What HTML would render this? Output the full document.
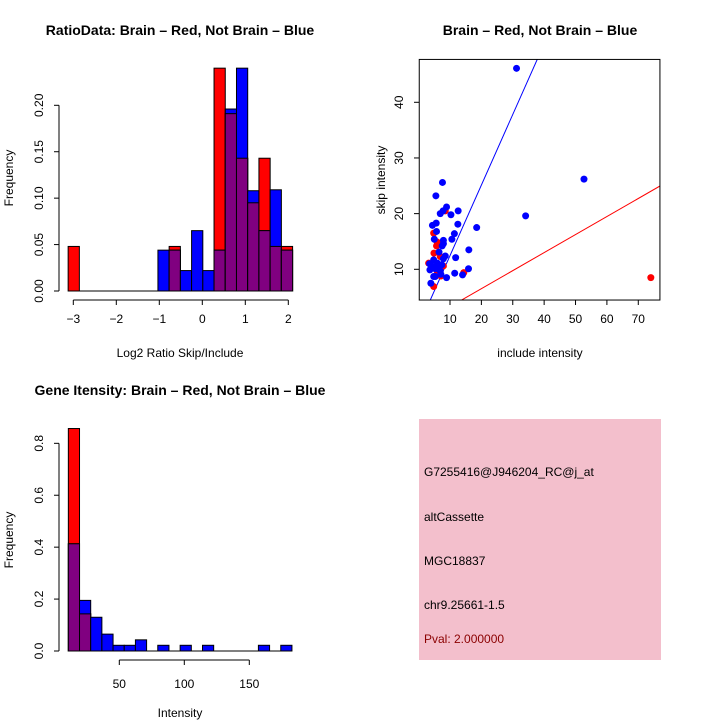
<!DOCTYPE html>
<html><head><meta charset="utf-8"><style>
body{margin:0;background:#fff}
svg{display:block;font-family:"Liberation Sans",sans-serif}
</style></head><body>
<svg id="c" width="720" height="720" xmlns="http://www.w3.org/2000/svg">
<rect x="0" y="0" width="720" height="720" fill="#fff"/>
<g id="p1"></g>
<g id="p2"></g>
<g id="p3"></g>
<g>
<rect x="419" y="419" width="242" height="241" fill="#f3bfcc"/>
<text x="424" y="476" font-size="12">G7255416@J946204_RC@j_at</text>
<text x="424" y="521" font-size="12">altCassette</text>
<text x="424" y="565" font-size="12">MGC18837</text>
<text x="424" y="609" font-size="12">chr9.25661-1.5</text>
<text x="424" y="643" font-size="12" fill="#8b0000">Pval: 2.000000</text>
</g>
</svg>
<script>
// Ratio histogram data
const ratioStart = -3.12, ratioWidth = 0.261;
const ratioRed  = [0.048,0,0,0,0,0,0,0,0,0.048,0,0,0,0.24,0.191,0.143,0.095,0.143,0.048,0.048];
const ratioBlue = [0,0,0,0,0,0,0,0,0.044,0.044,0.022,0.065,0.022,0.044,0.196,0.24,0.108,0.065,0.109,0.044];
const ratioXTicks = [-3,-2,-1,0,1,2];
const ratioYTicks = [0,0.05,0.10,0.15,0.20];
const ratioYLabels = ["0.00","0.05","0.10","0.15","0.20"];
// Scatter data
const redX = [4.8,5.7,5.9,4.9,7.9,7.1,4.8,8.5,14.4,3.2,6.9,5.9,74.0];
const redY = [16.5,14.2,14.9,12.9,10.6,8.8,6.9,20.5,9.4,11.1,12.3,9.7,8.5];
const blueX = [31.2,52.7,34.1,18.5,16,15.9,14,11.5,11.8,12.5,12.6,10.3,11.4,10.6,7.6,5.5,8.9,7.8,6.9,4.4,5.6,5.7,5,7.9,7.9,7.5,6.5,8.5,7.9,3.5,4.8,6,7.4,5.3,6.9,3.6,4.8,3.9,8.9,7.1,5.3,6.2,4.2];
const blueY = [46.1,26.2,19.6,17.5,13.5,10.1,9.0,9.3,12.1,18.1,20.5,19.8,16.4,15.4,25.6,23.2,21.2,20.5,20,17.9,18.3,16.8,15.4,15.2,14.6,14.2,13.1,12.4,11.9,11,11.7,11.1,10.8,10.1,9.7,9.9,8.7,7.5,8.5,9.1,8.7,10.4,10.6];
const blueFit = [-0.23,1.268];
const redFit = [0.04,0.324];
const scXTicks = [10,20,30,40,50,60,70];
const scYTicks = [10,20,30,40];
// Gene intensity histogram
const genStart = 10.8, genWidth = 8.6;
const genRed  = [0.857,0.143,0,0,0,0,0,0,0,0,0,0,0,0,0,0,0,0,0,0];
const genBlue = [0.413,0.195,0.13,0.065,0.022,0.022,0.043,0,0.022,0,0.022,0,0.022,0,0,0,0,0.022,0,0.022];
const genXTicks = [50,100,150];
const genYTicks = [0,0.2,0.4,0.6,0.8];
const genYLabels = ["0.0","0.2","0.4","0.6","0.8"];

const NS="http://www.w3.org/2000/svg";
function mk(parent,tag,attrs,txt){const e=document.createElementNS(NS,tag);for(const k in attrs)e.setAttribute(k,attrs[k]);if(txt!==undefined)e.textContent=txt;parent.appendChild(e);return e;}

function hist(g,o){
  const {sx,sy,start,width,red,blue}=o;
  for(let i=0;i<red.length;i++){
    const x0=sx(start+i*width), x1=sx(start+(i+1)*width);
    const r=red[i], b=blue[i], m=Math.min(r,b);
    if(r>0){const e=mk(g,'rect',{x:x0,y:sy(r),width:x1-x0,height:sy(0)-sy(r),fill:'#ff0000',stroke:'#000','stroke-width':1});
      }
    if(b>0){const e=mk(g,'rect',{x:x0,y:sy(b),width:x1-x0,height:sy(0)-sy(b),fill:'#0000ff',stroke:'#000','stroke-width':1});
      }
    if(m>0){const e=mk(g,'rect',{x:x0,y:sy(m),width:x1-x0,height:sy(0)-sy(m),fill:'#800080',stroke:'#000','stroke-width':1});
      }
  }
  mk(g,'line',{x1:sx(start),x2:sx(start+red.length*width),y1:sy(0),y2:sy(0),stroke:'#000'});
}
function yaxis(g,x,sy,ticks,labels,lx){
  mk(g,'line',{x1:x,x2:x,y1:sy(ticks[0]),y2:sy(ticks[ticks.length-1]),stroke:'#000'});
  ticks.forEach((t,i)=>{mk(g,'line',{x1:x-5,x2:x,y1:sy(t),y2:sy(t),stroke:'#000'});
    const e=mk(g,'text',{x:lx,y:sy(t),'font-size':12,'text-anchor':'middle',transform:`rotate(-90 ${lx} ${sy(t)})`},labels[i]);
    });
}
function xaxis(g,y,sx,ticks,labels,ly){
  mk(g,'line',{x1:sx(ticks[0]),x2:sx(ticks[ticks.length-1]),y1:y,y2:y,stroke:'#000'});
  ticks.forEach((t,i)=>{mk(g,'line',{x1:sx(t),x2:sx(t),y1:y,y2:y+5,stroke:'#000'});
    const e=mk(g,'text',{x:sx(t),y:ly,'font-size':12,'text-anchor':'middle'},labels[i]);
    });
}
function label(g,x,y,t,name,opts){const a=Object.assign({x:x,y:y,'font-size':12,'text-anchor':'middle'},opts||{});const e=mk(g,'text',a,t);
  return e;}

// Panel 1
(function(){
  const g=document.getElementById('p1');
  const sx=v=>73.3+(v+3)*43, sy=v=>291-v*928.5;
  hist(g,{sx,sy,start:ratioStart,width:ratioWidth,red:ratioRed,blue:ratioBlue});
  yaxis(g,59,sy,ratioYTicks,ratioYLabels,43);
  xaxis(g,300,sx,ratioXTicks,ratioXTicks.map(t=>t<0?'\u2212'+(-t):String(t)),323);
  label(g,180,35,'RatioData: Brain \u2013 Red, Not Brain \u2013 Blue','chart-title',{'font-size':14,'font-weight':'bold'});
  label(g,180,357,'Log2 Ratio Skip/Include','x-axis-title');
  label(g,13,178,'Frequency','y-axis-title',{transform:'rotate(-90 13 178)'});
})();
// Panel 2
(function(){
  const g=document.getElementById('p2');
  const sx=v=>450+(v-10)*3.138, sy=v=>269.3-(v-10)*5.567;
  const xmin=0.2,xmax=76.9,ymin=4.48,ymax=47.7;
  const cp=mk(g,'clipPath',{id:'clip2'});mk(cp,'rect',{x:sx(xmin),y:sy(ymax),width:sx(xmax)-sx(xmin),height:sy(ymin)-sy(ymax)});
  const lines=mk(g,'g',{'clip-path':'url(#clip2)'});
  const bl=mk(lines,'line',{x1:sx(0),y1:sy(blueFit[0]),x2:sx(80),y2:sy(blueFit[0]+blueFit[1]*80),stroke:'#0000ff'});
  
  const rl=mk(lines,'line',{x1:sx(0),y1:sy(redFit[0]),x2:sx(80),y2:sy(redFit[0]+redFit[1]*80),stroke:'#ff0000'});
  
  redX.forEach((x,i)=>{const c=mk(g,'circle',{cx:sx(x),cy:sy(redY[i]),r:3.5,fill:'#ff0000'});
    });
  blueX.forEach((x,i)=>{const c=mk(g,'circle',{cx:sx(x),cy:sy(blueY[i]),r:3.5,fill:'#0000ff'});
    });
  const b=mk(g,'rect',{x:sx(xmin),y:sy(ymax),width:sx(xmax)-sx(xmin),height:sy(ymin)-sy(ymax),fill:'none',stroke:'#000'});
  
  scXTicks.forEach(t=>{mk(g,'line',{x1:sx(t),x2:sx(t),y1:300,y2:305,stroke:'#000'});label(g,sx(t),323,String(t),'x-tick-label');});
  scYTicks.forEach(t=>{mk(g,'line',{x1:414,x2:419.3,y1:sy(t),y2:sy(t),stroke:'#000'});label(g,403,sy(t),String(t),'y-tick-label',{transform:`rotate(-90 403 ${sy(t)})`});});
  label(g,540,35,'Brain \u2013 Red, Not Brain \u2013 Blue','chart-title',{'font-size':14,'font-weight':'bold'});
  label(g,540,357,'include intensity','x-axis-title');
  label(g,385,180,'skip intensity','y-axis-title',{transform:'rotate(-90 385 180)'});
})();
// Panel 3
(function(){
  const g=document.getElementById('p3');
  const sx=v=>119.3+(v-50)*1.3, sy=v=>651-v*259.6;
  hist(g,{sx,sy,start:genStart,width:genWidth,red:genRed,blue:genBlue});
  yaxis(g,59,sy,genYTicks,genYLabels,43);
  xaxis(g,660,sx,genXTicks,genXTicks.map(String),688);
  label(g,180,395,'Gene Itensity: Brain \u2013 Red, Not Brain \u2013 Blue','chart-title',{'font-size':14,'font-weight':'bold'});
  label(g,180,717,'Intensity','x-axis-title');
  label(g,13,540,'Frequency','y-axis-title',{transform:'rotate(-90 13 540)'});
})();
</script>
</body></html>
